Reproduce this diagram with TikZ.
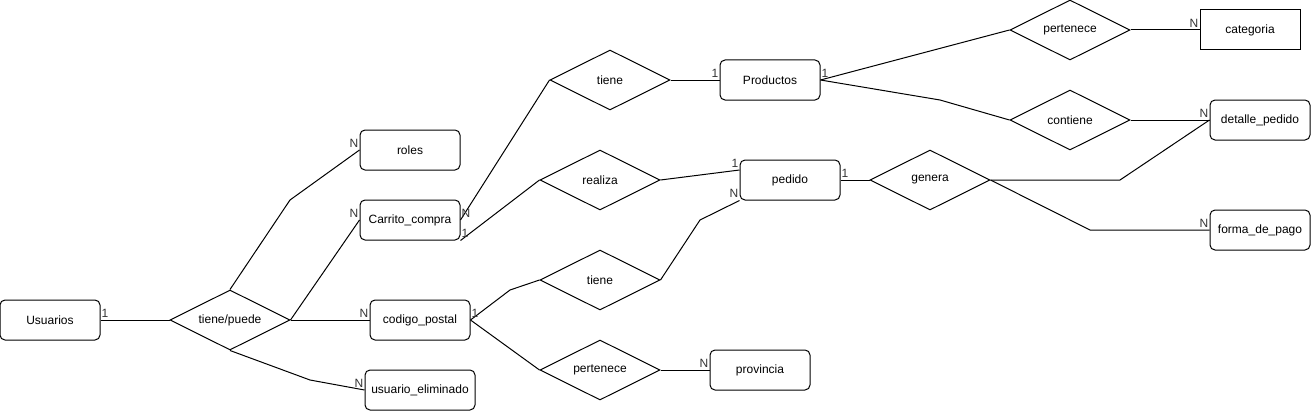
\documentclass[tikz,border=0pt]{standalone}
\usepackage{fontspec}
\setmainfont{Liberation Sans}
\usetikzlibrary{positioning, shapes.geometric}

\begin{document}
\begin{tikzpicture}[x=1pt, y=-1pt,
  entity/.style={draw, rectangle, rounded corners=5pt, line width=1pt, minimum width=100pt, minimum height=40pt, inner sep=0pt, font=\fontsize{12}{14}\selectfont},
  relation/.style={draw, diamond, aspect=2, line width=1pt, minimum width=120pt, minimum height=60pt, inner sep=0pt, font=\fontsize{12}{14}\selectfont},
  card/.style={inner xsep=1pt, inner ysep=2.5pt, text=black!80, font=\fontsize{12}{14}\selectfont},
  link/.style={line width=1pt}
]
\useasboundingbox (0,0) rectangle (1311,412);

% Entities
\node[entity] (usuarios) at (50,320) {Usuarios};
\node[entity] (roles) at (410,150) {roles};
\node[entity] (carrito) at (410,220) {Carrito\_compra};
\node[entity] (codpostal) at (420,320) {codigo\_postal};
\node[entity, minimum width=110pt] (usrelim) at (420,390) {usuario\_eliminado};
\node[entity] (productos) at (770,80) {Productos};
\node[entity] (pedido) at (790,180) {pedido};
\node[entity] (provincia) at (760,370) {provincia};
\node[entity, rounded corners=0pt] (categoria) at (1250,30) {categoria};
\node[entity] (detalle) at (1260,120) {detalle\_pedido};
\node[entity] (formapago) at (1260,230) {forma\_de\_pago};

% Relations
\node[relation] (tienePuede) at (230,320) {tiene/puede};
\node[relation] (tieneProd) at (610,80) {tiene};
\node[relation] (realiza) at (600,180) {realiza};
\node[relation] (tieneCP) at (600,280) {tiene};
\node[relation] (perteneceProv) at (600,370) {pertenece};
\node[relation] (perteneceCat) at (1070,30) {pertenece};
\node[relation] (contiene) at (1070,120) {contiene};
\node[relation] (genera) at (930,180) {genera};

% Connectors
\draw[link] (usuarios.east) -- (tienePuede.west);
\draw[link] (tienePuede.north) -- (290,200) -- (roles.west);
\draw[link] (tienePuede.east) -- (carrito.west);
\draw[link] (tienePuede.east) -- (codpostal.west);
\draw[link] (tienePuede.south) -- (310,380) -- (usrelim.west);
\draw[link] (carrito.east) -- (tieneProd.west);
\draw[link] (carrito.south east) -- (realiza.west);
\draw[link] (tieneProd.east) -- (productos.west);
\draw[link] (realiza.east) -- ([yshift=10pt]pedido.west);
\draw[link] (tieneCP.east) -- (700,220) -- (pedido.south west);
\draw[link] (productos.east) -- (perteneceCat.west);
\draw[link] (productos.east) -- (940,100) -- (contiene.west);
\draw[link] (perteneceCat.east) -- (categoria.west);
\draw[link] (contiene.east) -- (detalle.west);
\draw[link] (pedido.east) -- (genera.west);
\draw[link] (genera.east) -- (1120,180) -- (detalle.west);
\draw[link] (genera.east) -- (1090,230) -- (formapago.west);
\draw[link] (codpostal.east) -- (510,290) -- (tieneCP.west);
\draw[link] (codpostal.east) -- (perteneceProv.west);
\draw[link] (perteneceProv.east) -- (provincia.west);

% Cardinalities
\node[card, anchor=south west] (cUsuarios) at (usuarios.east) {1};
\node[card, anchor=south east] (cRoles) at (roles.west) {N};
\node[card, anchor=south east] (cCarrito) at (carrito.west) {N};
\node[card, anchor=south east] (cCodPostal) at (codpostal.west) {N};
\node[card, anchor=south east] (cUsrElim) at (usrelim.west) {N};
\node[card, anchor=south west] (cCarritoProd) at (carrito.east) {N};
\node[card, anchor=south west] (cCarritoPed) at (carrito.south east) {1};
\node[card, anchor=south east] (cProdIn) at (productos.west) {1};
\node[card, anchor=south west] (cProdOut) at (productos.east) {1};
\node[card, anchor=south east] (cPedidoIn) at ([yshift=10pt]pedido.west) {1};
\node[card, anchor=south east] (cPedidoCP) at (pedido.south west) {N};
\node[card, anchor=south west] (cPedidoOut) at (pedido.east) {1};
\node[card, anchor=south west] (cCodPostalOut) at (codpostal.east) {1};
\node[card, anchor=south east] (cProvincia) at (provincia.west) {N};
\node[card, anchor=south east] (cCategoria) at (categoria.west) {N};
\node[card, anchor=south east] (cDetalle) at (detalle.west) {N};
\node[card, anchor=south east] (cFormaPago) at (formapago.west) {N};

\end{tikzpicture}
\end{document}
